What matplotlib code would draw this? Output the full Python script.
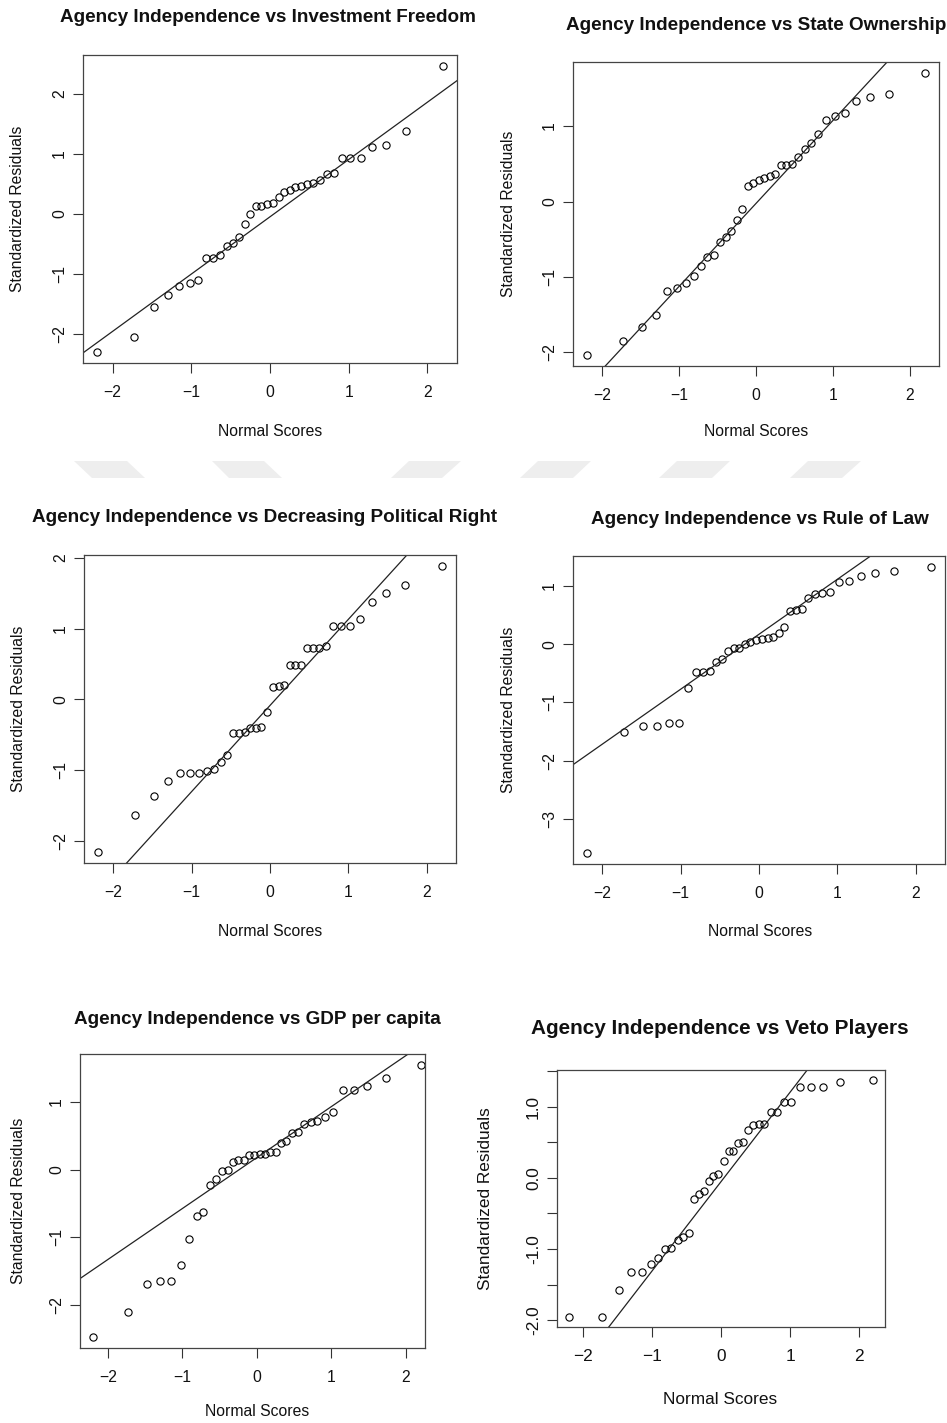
import statistics

import matplotlib
matplotlib.use('Agg')
import matplotlib.pyplot as plt
from matplotlib.patches import Polygon
import numpy as np

plt.rcParams['font.family'] = ['Liberation Sans', 'DejaVu Sans']

W, H = 947, 1423

# normal scores (x axis), same 36 points in every panel
normal_scores = [-2.20, -1.73, -1.48, -1.30, -1.15, -1.02, -0.91, -0.81, -0.72,
                 -0.63, -0.55, -0.47, -0.39, -0.32, -0.25, -0.18, -0.11, -0.04,
                 0.04, 0.11, 0.18, 0.25, 0.32, 0.39, 0.47, 0.55, 0.63,
                 0.72, 0.81, 0.91, 1.02, 1.15, 1.30, 1.48, 1.73, 2.20]

# standardized residuals, sorted
res_investment = [-2.30, -2.06, -1.56, -1.35, -1.20, -1.15, -1.11, -0.74, -0.74,
                  -0.68, -0.53, -0.48, -0.38, -0.17, 0.00, 0.13, 0.13, 0.17,
                  0.18, 0.28, 0.37, 0.39, 0.44, 0.47, 0.49, 0.52, 0.57,
                  0.67, 0.68, 0.93, 0.93, 0.93, 1.11, 1.15, 1.39, 2.46]
res_state = [-2.03, -1.85, -1.66, -1.50, -1.19, -1.14, -1.08, -0.99, -0.85,
             -0.74, -0.71, -0.53, -0.47, -0.39, -0.24, -0.10, 0.21, 0.24,
             0.29, 0.31, 0.34, 0.37, 0.48, 0.49, 0.50, 0.59, 0.70,
             0.77, 0.90, 1.08, 1.13, 1.17, 1.33, 1.39, 1.42, 1.70]
res_political = [-2.15, -1.63, -1.37, -1.15, -1.04, -1.04, -1.04, -1.01, -0.98,
                 -0.88, -0.78, -0.47, -0.47, -0.46, -0.41, -0.40, -0.39, -0.18,
                 0.17, 0.19, 0.21, 0.48, 0.48, 0.48, 0.73, 0.73, 0.73,
                 0.75, 1.04, 1.04, 1.04, 1.13, 1.37, 1.50, 1.62, 1.88]
res_law = [-3.58, -1.51, -1.41, -1.40, -1.35, -1.35, -0.75, -0.48, -0.48,
           -0.46, -0.30, -0.25, -0.12, -0.07, -0.06, 0.00, 0.03, 0.07,
           0.09, 0.10, 0.13, 0.20, 0.30, 0.57, 0.59, 0.60, 0.79,
           0.86, 0.88, 0.89, 1.07, 1.08, 1.18, 1.23, 1.25, 1.32]
res_gdp = [-2.48, -2.11, -1.70, -1.65, -1.65, -1.41, -1.03, -0.68, -0.63,
           -0.23, -0.14, -0.02, 0.00, 0.11, 0.14, 0.14, 0.22, 0.22,
           0.23, 0.23, 0.26, 0.26, 0.40, 0.43, 0.54, 0.55, 0.68,
           0.71, 0.72, 0.78, 0.85, 1.18, 1.18, 1.24, 1.35, 1.55]
res_veto = [-1.96, -1.95, -1.58, -1.32, -1.32, -1.21, -1.12, -1.00, -0.99,
            -0.87, -0.83, -0.77, -0.29, -0.22, -0.18, -0.04, 0.03, 0.06,
            0.23, 0.37, 0.38, 0.49, 0.50, 0.67, 0.74, 0.75, 0.75,
            0.92, 0.92, 1.06, 1.06, 1.27, 1.27, 1.27, 1.35, 1.38]

titles = ['Agency Independence vs Investment Freedom',
          'Agency Independence vs State Ownership',
          'Agency Independence vs Decreasing Political Right',
          'Agency Independence vs Rule of Law',
          'Agency Independence vs GDP per capita',
          'Agency Independence vs Veto Players']

x_ticks = [-2, -1, 0, 1, 2]
y_ticks = [[-2, -1, 0, 1, 2], [-2, -1, 0, 1], [-2, -1, 0, 1, 2],
           [-3, -2, -1, 0, 1], [-2, -1, 0, 1],
           [-2.0, -1.5, -1.0, -0.5, 0.0, 0.5, 1.0, 1.5]]
veto_labels = ['-2.0', '', '-1.0', '', '0.0', '', '1.0', '']

# layout in pixels: box (left, top, right, bottom), title centre, label centres
boxes = [(83, 55, 457, 363), (573, 62, 939, 366),
         (84, 555, 456, 863), (573, 556, 945, 864),
         (80, 1054, 425, 1348), (557, 1070, 885, 1327)]
title_pos = [(268, 17), (756, 25), (264.5, 518), (760, 519), (257.5, 1019), (720, 1029)]
xlabel_pos = [(270, 432), (756, 432), (270, 931), (760, 931), (257, 1412), (720, 1400)]
ylabel_x = [18, 508, 18, 508, 18, 485]

# faint watermark bands: (top-left, top-right, bottom-left, bottom-right) x in px
marks = [(74, 127, 92, 145), (212, 264, 229, 282), (409, 461, 391, 442),
         (538, 591, 520, 573), (677, 730, 659, 712), (808, 861, 790, 842)]

fig = plt.figure(figsize=(W / 100, H / 100), dpi=100)

for tl, tr, bl, br in marks:
    pts = [(tl / W, 1 - 461 / H), (tr / W, 1 - 461 / H),
           (br / W, 1 - 478 / H), (bl / W, 1 - 478 / H)]
    fig.add_artist(Polygon(pts, closed=True, transform=fig.transFigure,
                           facecolor='#eeeeee', edgecolor='none', zorder=0))

residuals = [res_investment, res_state, res_political, res_law, res_gdp, res_veto]
z75 = statistics.NormalDist().inv_cdf(0.75)

for i, y in enumerate(residuals):
    left, top, right, bottom = boxes[i]
    w, h = right - left, bottom - top
    ax = fig.add_axes([left / W, 1 - bottom / H, w / W, h / H])
    scale = 1.1 if i == 5 else 1.0
    fs = 11.3 * scale

    ax.plot(normal_scores, y, 'o', mfc='none', mec='black', ms=5.2, mew=0.8)

    # qqline through the quartiles
    q25, q75 = np.percentile(y, [25, 75])
    slope = (q75 - q25) / (2 * z75)
    ax.axline((0, q25 + slope * z75), slope=slope, color='#222222', lw=0.9)

    ax.margins(0.04)
    if i == 4:
        ax.set_xlim(-2.376, 2.257)

    ax.set_xticks(x_ticks)
    ax.set_yticks(y_ticks[i])
    if i == 5:
        ax.set_yticklabels(veto_labels)
    ax.tick_params(direction='out', length=7, width=0.8, color='#333333',
                   labelsize=fs, labelcolor='#111111')
    ax.tick_params(axis='x', pad=9)
    ax.tick_params(axis='y', pad=4.5, labelrotation=90)
    for lab in ax.get_yticklabels():
        lab.set_va('center')
    for s in ax.spines.values():
        s.set_color('#444444')
        s.set_linewidth(0.9)

    tx, ty = title_pos[i]
    ax.set_title(titles[i], x=(tx - left) / w, y=(bottom - ty) / h, va='center',
                 pad=0, fontsize=13.6 * scale, fontweight='bold', color='#111111')
    lx, ly = xlabel_pos[i]
    ax.set_xlabel('Normal Scores', fontsize=fs, color='#111111')
    ax.xaxis.set_label_coords((lx - left) / w, (bottom - ly) / h)
    ax.xaxis.label.set_va('center')
    ax.set_ylabel('Standardized Residuals', fontsize=fs, color='#111111')
    ax.yaxis.set_label_coords((ylabel_x[i] - left) / w, 0.5)
    ax.yaxis.label.set_va('center')

fig.savefig('out.png', dpi=100)
